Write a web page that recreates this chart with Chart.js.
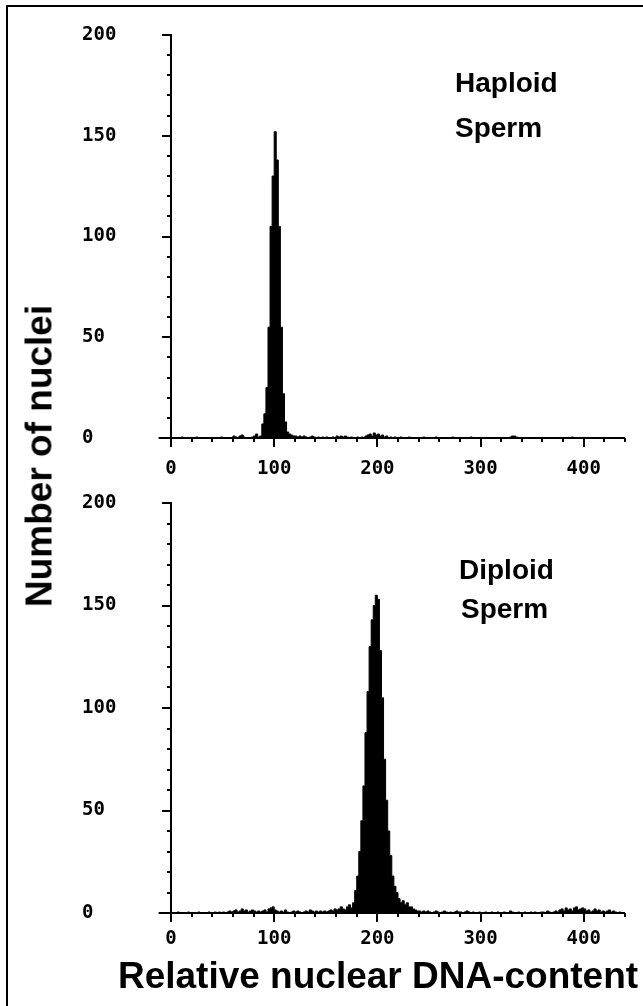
<!DOCTYPE html>
<html>
<head>
<meta charset="utf-8">
<script src="https://cdn.jsdelivr.net/npm/chart.js@4/dist/chart.umd.min.js"></script>
<style>
  html, body { margin:0; padding:0; background:#fff; width:643px; height:1006px; overflow:hidden; }
  #frame { position:absolute; left:6px; top:5px; width:700px; height:1010px; border-left:2px solid #000; border-top:2px solid #000; }
  .wrap { position:absolute; left:0; width:643px; }
  canvas { display:block; }
  .lbl { position:absolute; font-family:"Liberation Sans", Arial, sans-serif; font-weight:bold; color:#000; white-space:nowrap; line-height:1; }
</style>
</head>
<body>
<div id="frame"></div>
<div class="wrap" style="top:0;height:490px;"><canvas id="c1" width="643" height="490"></canvas></div>
<div class="wrap" style="top:470px;height:490px;"><canvas id="c2" width="643" height="490"></canvas></div>
<div class="lbl" id="t1a" style="left:455px;top:69px;font-size:28px;">Haploid</div>
<div class="lbl" id="t1b" style="left:455px;top:114px;font-size:28px;">Sperm</div>
<div class="lbl" id="t2a" style="left:459px;top:556px;font-size:28px;">Diploid</div>
<div class="lbl" id="t2b" style="left:461px;top:595px;font-size:28px;">Sperm</div>
<div class="lbl" id="ytitle" style="left:39px;top:456px;font-size:37px;transform:translate(-50%,-50%) rotate(-90deg);">Number of nuclei</div>
<div class="lbl" id="xtitle" style="left:378px;top:957px;font-size:37px;transform:translateX(-50%);">Relative nuclear DNA-content</div>
<script>
// ---- data ----
const binWidth = 2;                       // relative DNA-content units per channel bin
const binCount = 220;                     // 0 .. 440
const dnaBins = Array.from({length: binCount}, (_, i) => i * binWidth + binWidth / 2);

const haploidCounts = [
  0,0,0,0,0,0.5,0,0,0,0,0,0,0.5,0,0,0,0,0,0,0,
  0,0,0,0,0.5,0,0,0,0,0,1,0.5,0,1,1.5,0.5,0,0,0,0.5,
  1,2,0.5,1,7,12,25,55,105,130,152,138,105,55,22,8,3,2,1.5,1,
  1,0.5,1,0.5,1,0.5,0,0.5,1,0.5,0,0.5,0,0.5,0,0.5,0,0,0.5,0,
  1,0.5,1,0.5,1,0.5,0,0.5,0,0,0.5,0,0.5,0,1,1.5,2,1,2.5,1.5,
  2,1,1.5,0.5,1,0,0.5,0,0.5,0,0,0.5,0,0,0,0.5,0,0,0,0,
  0,0,0.5,0,0,0,0,0,0.5,0,0,0,0,0,0,0,0.5,0,0,0,
  0,0,0,0,0,0.5,0,0,0,0,0,0,0,0,0,0,0,0,0,0,
  0,0,0,0,0.5,1,1,0.5,0,0,0,0,0,0,0,0,0,0,0,0,
  0,0,0,0,0,0,0,0,0,0,0,0,0,0,0.5,0,0,0,0,0,
  0,0,0,0,0,0,0,0,0,0,0,0,0,0,0,0,0,0,0,0
];

const diploidCounts = [
  0,0,0,0.5,0,0,0,0,0.5,0,0,0,0,0.5,0,0,0,0,0.5,0,
  0,0.5,0,0.5,0,0.5,0,0.5,1,0.5,1,1.5,0.5,1,2,1,1.5,0.5,1,1.5,
  1,0.5,1,0.5,1,1.5,0.5,2,2.5,3,1.5,1,0.5,1,0.5,1.5,0.5,0,0.5,1,
  0.5,1,0.5,0,0.5,1,0.5,1.5,1,0.5,1,0.5,1,0.5,1,0.5,1,1.5,1,2,
  1.5,2,3,2,1.5,3,4,2.5,5,11,18,30,45,62,88,108,130,143,150,155,
  153,128,105,75,55,40,28,18,13,10,7,5,6,4,5,3,3,2,1.5,1,
  1,0.5,1,0.5,1,0.5,0,0.5,1,0.5,0,0.5,1,0.5,0,0.5,0,0.5,1,0.5,
  0.5,0,0.5,1,0.5,0,0.5,0,0,0.5,0,0,0.5,0,0,0.5,0,0,0.5,0,
  0,0.5,0,0,1,0.5,0,0,0.5,0,0,0.5,0,0,0.5,0,0.5,0,0,0.5,
  0.5,0,1,0.5,0,0.5,1,0.5,1.5,2,1,2.5,1.5,2,1,2.5,3,1.5,2,2.5,
  2,1,1.5,0.5,1,2,1,1.5,0.5,1,0.5,1,1.5,0.5,1,0.5,0,0.5,0,0
];

const xTickValues = [0, 100, 200, 300, 400];
const xTickLabels = ['0', '100', '200', '300', '400'];
const yTickValues = [0, 50, 100, 150, 200];
const yTickLabels = ['0', '50', '100', '150', '200'];

// ---- axis geometry ----
const xMin = -12, xMax = 440, yMax = 200;
const xMinorStep = 20, yMinorStep = 10;

const axesPlugin = {
  id: 'plotAxes',
  afterDatasetsDraw(chart) {
    const { ctx, scales: { x, y } } = chart;
    const x0 = Math.round(x.getPixelForValue(0));
    const y0 = Math.round(y.getPixelForValue(0));
    ctx.save();
    ctx.strokeStyle = '#000';
    ctx.lineWidth = 2;
    ctx.beginPath();
    ctx.moveTo(x.getPixelForValue(xMin), y0);
    ctx.lineTo(x.getPixelForValue(xMax), y0);
    ctx.moveTo(x0, y.getPixelForValue(yMax) - 1);
    ctx.lineTo(x0, y0 + 9);
    for (let v = 0; v <= yMax; v += yMinorStep) {
      const py = Math.round(y.getPixelForValue(v));
      const len = (v % 50 === 0) ? 9 : 4;
      ctx.moveTo(x0 - len, py);
      ctx.lineTo(x0, py);
    }
    for (let v = 0; v <= xMax; v += xMinorStep) {
      const px = Math.round(x.getPixelForValue(v));
      const len = (v % 100 === 0) ? 9 : 4;
      ctx.moveTo(px, y0);
      ctx.lineTo(px, y0 + len);
    }
    ctx.stroke();
    ctx.restore();
  }
};

function makeChart(id, counts, padTop, plotBottom, labelPad) {
  const canvasH = 490;
  return new Chart(document.getElementById(id), {
    type: 'line',
    data: {
      datasets: [{
        data: dnaBins.map((b, i) => ({ x: b, y: counts[i] })),
        stepped: 'middle',
        fill: 'origin',
        backgroundColor: '#000',
        borderColor: '#000',
        borderWidth: 1,
        pointRadius: 0,
        tension: 0
      }]
    },
    options: {
      responsive: false,
      animation: false,
      devicePixelRatio: 1,
      layout: { padding: { top: padTop, left: 82, right: 18, bottom: 0 } },
      plugins: { legend: { display: false }, tooltip: { enabled: false }, title: { display: false } },
      scales: {
        x: {
          type: 'linear',
          min: xMin,
          max: xMax,
          grid: { display: false },
          border: { display: false },
          afterBuildTicks: (s) => { s.ticks = xTickValues.map(v => ({ value: v })); },
          afterFit: (s) => { s.height = canvasH - plotBottom; },
          ticks: {
            autoSkip: false,
            maxRotation: 0,
            padding: labelPad,
            color: '#000',
            font: { family: '"DejaVu Sans Mono", monospace', size: 19, weight: 'bold' },
            callback: (v) => { const k = xTickValues.indexOf(v); return k >= 0 ? xTickLabels[k] : ''; }
          }
        },
        y: {
          type: 'linear',
          min: 0,
          max: yMax,
          grid: { display: false },
          border: { display: false },
          afterBuildTicks: (s) => { s.ticks = yTickValues.map(v => ({ value: v })); },
          afterFit: (s) => { s.width = 76.62; },
          ticks: {
            crossAlign: 'far',
            color: '#000',
            font: { family: '"DejaVu Sans Mono", monospace', size: 19, weight: 'bold' },
            callback: (v) => { const k = yTickValues.indexOf(v); return k >= 0 ? yTickLabels[k] : ''; }
          }
        }
      }
    },
    plugins: [axesPlugin]
  });
}

makeChart('c1', haploidCounts, 35, 438, 12);
makeChart('c2', diploidCounts, 33, 443, 7);
</script>
</body>
</html>
